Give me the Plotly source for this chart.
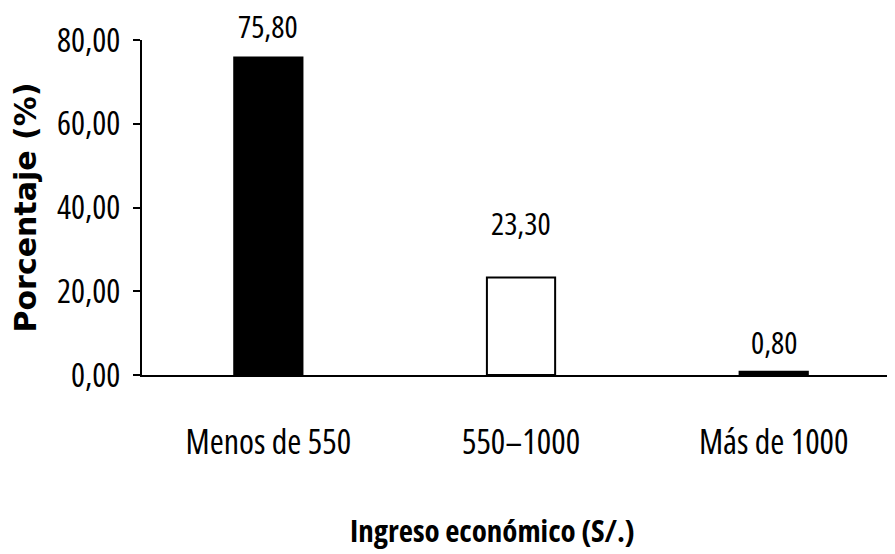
import plotly.graph_objects as go

categories = ["Menos de 550", "550\u20131000", "Más de 1000"]
values = [75.80, 23.30, 0.80]
value_labels = ["75,80", "23,30", "0,80"]
tick_vals = [0, 20, 40, 60, 80]
tick_text = ["0,00", "20,00", "40,00", "60,00", "80,00"]

bar_colors = ["black", "white", "black"]
label_shift = [9, 31, 7]

cond = '<span style="font-stretch:condensed">{}</span>'
narrow = "Open Sans"

fig = go.Figure()
fig.add_trace(go.Bar(
    x=categories, y=values, width=0.27,
    marker=dict(color=bar_colors, line=dict(color="black", width=2)),
    showlegend=False, hoverinfo="skip",
))

for c, v, t, s in zip(categories, values, value_labels, label_shift):
    fig.add_annotation(x=c, y=v, text=cond.format(t), showarrow=False, yanchor="bottom",
                       yshift=s, font=dict(family=narrow, size=31, color="black"))

fig.add_annotation(
    xref="paper", yref="paper", x=0.466, y=0, yanchor="middle", yshift=-155,
    text=cond.format("<b>Ingreso económico (S/.)</b>"), showarrow=False,
    font=dict(family=narrow, size=31, color="black"),
)

fig.update_layout(
    width=887, height=546,
    margin=dict(l=134, r=0, t=32, b=179),
    paper_bgcolor="white", plot_bgcolor="white",
    xaxis=dict(
        range=[-0.5, 2.48], showline=True, linecolor="black", linewidth=2,
        ticks="", showgrid=False, zeroline=False, automargin=False,
        tickvals=categories, ticktext=[cond.format(c) for c in categories],
        tickfont=dict(family=narrow, size=34, color="black"),
        ticklabelstandoff=36,
    ),
    yaxis=dict(
        range=[0, 80], showline=True, linecolor="black", linewidth=2,
        ticks="outside", ticklen=7, tickwidth=2, tickcolor="black", automargin=False,
        tickvals=tick_vals, ticktext=[cond.format(t) for t in tick_text],
        showgrid=False, zeroline=False, ticklabelstandoff=6,
        tickfont=dict(family=narrow, size=33, color="black"),
        title=dict(text="<b>Porcentaje (%)</b>", standoff=16,
                   font=dict(family="DejaVu Sans, Verdana, sans-serif", size=30, color="black")),
    ),
)

fig.write_html("out.html")
